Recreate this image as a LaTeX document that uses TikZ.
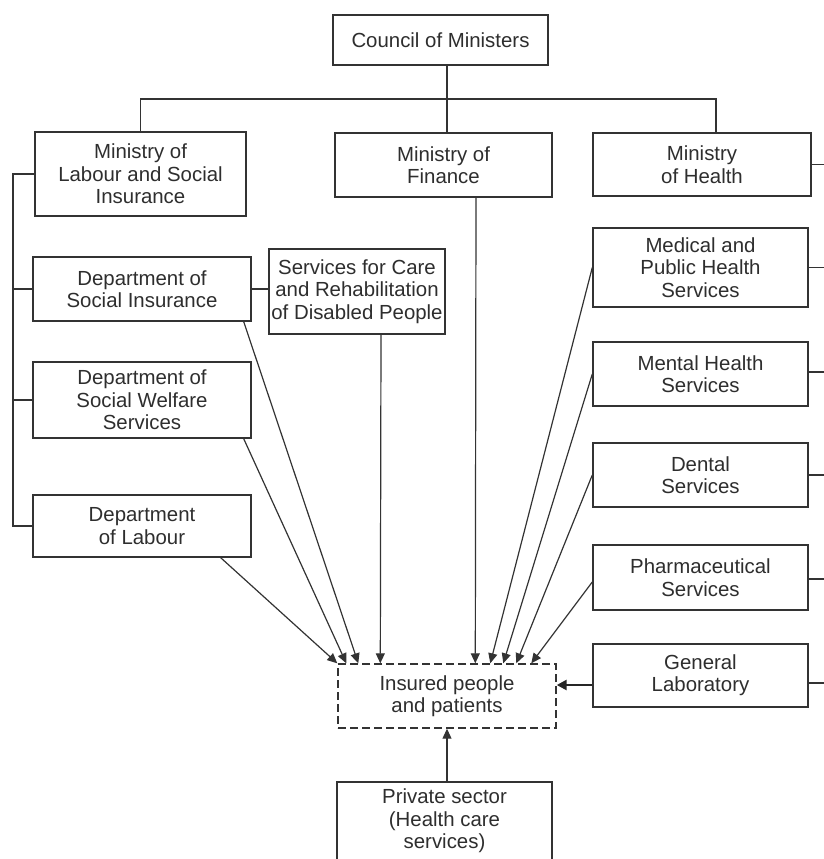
\documentclass[tikz,border=0pt]{standalone}
\usepackage{fontspec}
\setmainfont{Liberation Sans}
\usetikzlibrary{arrows.meta}
\begin{document}
\begin{tikzpicture}[x=0.5pt,y=-0.5pt,
  every node/.style={font=\fontsize{10.2}{11.2}\selectfont, text=black!82},
  box/.style={draw=black!80, line width=0.7pt, align=center, inner sep=0pt},
  conn/.style={draw=black!80, line width=0.6pt},
  arr/.style={conn, -{Triangle[length=5pt,width=4.5pt]}},
  bigarr/.style={draw=black!85, line width=1.4pt, -{Triangle[length=5pt,width=5pt]}}]
\useasboundingbox (0,0) rectangle (824,859);
\clip (0,0) rectangle (824,859);
\fill[white] (0,0) rectangle (824,859);

\node[box, minimum width=107.5pt, minimum height=25pt] (council) at (440.5,40) {Council of Ministers};
\node[box, minimum width=105.5pt, minimum height=42pt] (mlsi) at (140.5,174) {Ministry of\\Labour and Social\\Insurance};
\node[box, minimum width=108.5pt, minimum height=32pt] (mfin) at (443.5,165) {Ministry of\\Finance};
\node[box, minimum width=109pt, minimum height=31.5pt] (mhealth) at (702,164.5) {Ministry\\of Health};

\node[box, minimum width=109pt, minimum height=32pt] (dsi) at (142,289) {Department of\\Social Insurance};
\node[box, minimum width=88pt, minimum height=42.5pt] (scare) at (357,291.5) {Services for Care\\and Rehabilitation\\of Disabled People};
\node[box, minimum width=109pt, minimum height=38pt] (dsw) at (142,400) {Department of\\Social Welfare\\Services};
\node[box, minimum width=109pt, minimum height=31pt] (dlab) at (142,526) {Department\\of Labour};

\node[box, minimum width=107.5pt, minimum height=39.5pt] (med) at (700.5,267.5) {Medical and\\Public Health\\Services};
\node[box, minimum width=107.5pt, minimum height=32pt] (mental) at (700.5,374) {Mental Health\\Services};
\node[box, minimum width=107.5pt, minimum height=32pt] (dental) at (700.5,475) {Dental\\Services};
\node[box, minimum width=107.5pt, minimum height=32.5pt] (pharma) at (700.5,577.5) {Pharmaceutical\\Services};
\node[box, minimum width=107.5pt, minimum height=31.5pt] (genlab) at (700.5,675.5) {General\\Laboratory};

\node[box, dashed, dash pattern=on 4pt off 2pt, minimum width=109pt, minimum height=32pt] (insured) at (447,696) {Insured people\\and patients};
\node[box, minimum width=107.5pt, minimum height=39pt] (private) at (444.5,821) {Private sector\\(Health care\\services)};

\coordinate (lb) at (13,0);
\coordinate (re) at (824,0);
\coordinate (top) at (447,99);

% top tree
\draw[conn] (council.south -| top) -- (mfin.north -| top);
\draw[conn] (mlsi.north) |- (top) -| ([xshift=7pt]mhealth.north);

% left bracket
\draw[conn] (mlsi.west) -- (mlsi.west -| lb) -- (dlab.west -| lb) -- (dlab.west);
\draw[conn] (dsi.west) -- (dsi.west -| lb);
\draw[conn] (dsw.west) -- (dsw.west -| lb);
\draw[conn] (dsi.east) -- (dsi.east -| scare.west);

% right stubs
\draw[conn] (mhealth.east) -- (mhealth.east -| re);
\draw[conn] (med.east) -- (med.east -| re);
\draw[conn] ([yshift=1pt]mental.east) -- ([yshift=1pt]mental.east -| re);
\draw[conn] (dental.east) -- (dental.east -| re);
\draw[conn] ([yshift=-0.75pt]pharma.east) -- ([yshift=-0.75pt]pharma.east -| re);
\draw[conn] ([yshift=-3.75pt]genlab.east) -- ([yshift=-3.75pt]genlab.east -| re);

% arrows into insured
\draw[arr] ([xshift=-15.5pt]dlab.south east) -- ([xshift=0pt]insured.north west);
\draw[arr] ([xshift=-4pt]dsw.south east) -- ([xshift=4.5pt]insured.north west);
\draw[arr] ([xshift=-4pt]dsi.south east) -- ([xshift=10.5pt]insured.north west);
\draw[arr] ([xshift=12pt]scare.south) -- ([xshift=21.5pt]insured.north west);
\draw[arr] ([xshift=16.25pt]mfin.south) -- ([xshift=69pt]insured.north west);
\draw[arr] (med.west) -- ([xshift=76.5pt]insured.north west);
\draw[arr] (mental.west) -- ([xshift=83pt]insured.north west);
\draw[arr] (dental.west) -- ([xshift=89.5pt]insured.north west);
\draw[arr] ([yshift=-2.25pt]pharma.west) -- ([xshift=97pt]insured.north west);
\draw[bigarr] ([yshift=-4.75pt]genlab.west) -- ([yshift=-4.75pt]genlab.west -| insured.east);
\draw[arr] (insured.south |- private.north) -- (insured.south);
\end{tikzpicture}
\end{document}
